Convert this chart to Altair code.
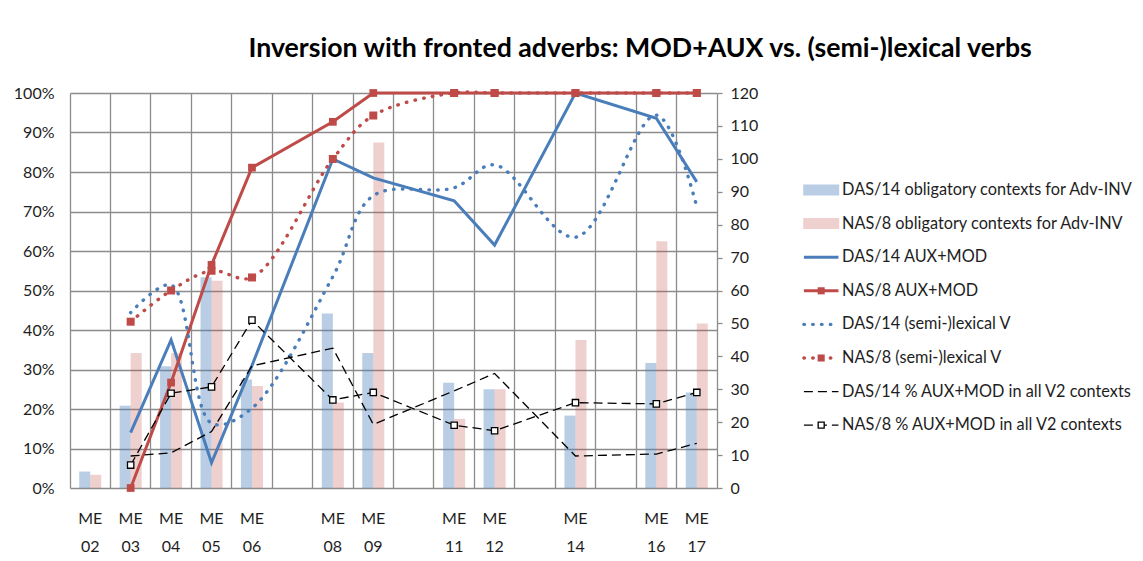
import altair as alt
import pandas as pd

# ---------------- data ----------------
codes = ["02", "03", "04", "05", "06", "07", "08", "09", "10", "11", "12", "13", "14", "15", "16", "17"]
hidden = ["07", "10", "13", "15"]

bar_codes = ["02", "03", "04", "05", "06", "08", "09", "11", "12", "14", "16", "17"]
das_ctx = [5, 25, 37, 64, 33, 53, 41, 32, 30, 22, 38, 29]
nas_ctx = [4, 41, 41, 63, 31, 26, 105, 21, 30, 45, 75, 50]

line_codes = ["03", "04", "05", "06", "08", "09", "11", "12", "14", "16", "17"]
das_auxmod = [14.0, 37.5, 6.4, 31.0, 83.3, 78.5, 72.7, 61.5, 100, 93.6, 77.5]
nas_auxmod = [0.0, 26.7, 56.5, 81.1, 92.7, 100, 100, 100, 100, 100, 100]
das_lex = [44.4, 51.4, 16.4, 20.2, 53.5, 74.0, 76.0, 81.8, 63.5, 94.4, 71.2]
nas_lex = [42.1, 50.0, 55.0, 53.3, 83.3, 94.3, 100, 100, 100, 100, 100]
das_v2 = [8.1, 8.9, 14.3, 30.9, 35.4, 16.1, 24.6, 29.0, 8.1, 8.6, 11.3]
nas_v2 = [5.8, 24.0, 25.6, 42.5, 22.3, 24.2, 15.9, 14.5, 21.6, 21.3, 24.2]

legend_names = [
    "DAS/14 obligatory contexts for Adv-INV",
    "NAS/8 obligatory contexts for Adv-INV",
    "DAS/14 AUX+MOD",
    "NAS/8 AUX+MOD",
    "DAS/14 (semi-)lexical V",
    "NAS/8 (semi-)lexical V",
    "DAS/14 % AUX+MOD in all V2 contexts",
    "NAS/8 % AUX+MOD in all V2 contexts",
]

title_text = "Inversion with fronted adverbs: MOD+AUX vs. (semi-)lexical verbs"

# ---------------- style ----------------
FONT = "Lato"
TXT = "#1e1e1e"
GRID = "#8c8c8c"
BLUE = "#4a7ebb"
RED = "#be4b48"
BLACK = "#000000"
DOT = [0.5, 8.3]
DASH = [9, 5]

# ---------------- tables ----------------
bar_df = pd.DataFrame({
    "code": bar_codes * 2,
    "group": ["DAS"] * len(bar_codes) + ["NAS"] * len(bar_codes),
    "count": das_ctx + nas_ctx,
})

series = {
    "das_auxmod": das_auxmod, "nas_auxmod": nas_auxmod,
    "das_lex": das_lex, "nas_lex": nas_lex,
    "das_v2": das_v2, "nas_v2": nas_v2,
}
rows = []
for k, vals in series.items():
    for c, v in zip(line_codes, vals):
        rows.append({"code": c, "series": k, "value": v / 100.0})
line_df = pd.DataFrame(rows)

# ---------------- encodings ----------------
label_expr = "indexof(['07','10','13','15'], datum.value) >= 0 ? '' : ['ME', datum.value]"
x_enc = alt.X(
    "code:N",
    scale=alt.Scale(domain=codes, paddingInner=0, paddingOuter=0),
    axis=alt.Axis(
        title=None, bandPosition=0, grid=True, gridColor=GRID, gridWidth=1.3,
        domain=False, ticks=False, labelExpr=label_expr,
        labelPadding=22, labelFont=FONT, labelFontSize=16, labelColor=TXT,
        labelLineHeight=28, labelAngle=0, labelBaseline="top",
    ),
)

left_axis = alt.Axis(
    orient="left", title=None, values=[i / 10 for i in range(11)], format=".0%",
    grid=True, gridColor=GRID, gridWidth=1.3, domain=False, ticks=False,
    labelPadding=16, labelFont=FONT, labelFontSize=16, labelColor=TXT,
)
right_axis = alt.Axis(
    orient="right", title=None, values=list(range(0, 121, 10)), grid=False,
    domain=True, domainColor=GRID, domainWidth=1.3, ticks=True, tickColor=GRID,
    tickSize=5, tickWidth=1.3, labelPadding=8, labelFont=FONT, labelFontSize=16,
    labelColor=TXT,
)
y_line = alt.Y("value:Q", scale=alt.Scale(domain=[0, 1], nice=False), axis=left_axis)

bars = alt.Chart(bar_df).mark_bar().encode(
    x=x_enc,
    xOffset=alt.XOffset("group:N", scale=alt.Scale(domain=["DAS", "NAS"], paddingInner=0, paddingOuter=0.836)),
    y=alt.Y("count:Q", scale=alt.Scale(domain=[0, 120], nice=False), axis=right_axis),
    color=alt.Color("group:N", scale=alt.Scale(domain=["DAS", "NAS"], range=["#4f81bd", "#c0504d"]), legend=None),
    opacity=alt.Opacity("group:N", scale=alt.Scale(domain=["DAS", "NAS"], range=[0.4, 0.27]), legend=None),
)

base = alt.Chart(line_df)


def line(key, color, width, dash=None, interp="linear"):
    kw = dict(color=color, strokeWidth=width, interpolate=interp)
    if dash is not None:
        kw["strokeDash"] = dash
        kw["strokeCap"] = "round" if dash == DOT else "butt"
    return base.transform_filter(alt.datum.series == key).mark_line(**kw).encode(x=x_enc, y=y_line)


def pts(key, size, fill, stroke, sw):
    return base.transform_filter(alt.datum.series == key).mark_point(
        shape="square", size=size, filled=True, fill=fill, stroke=stroke,
        strokeWidth=sw, opacity=1,
    ).encode(x=x_enc, y=y_line)


lines = alt.layer(
    line("das_auxmod", BLUE, 3),
    line("nas_auxmod", RED, 3),
    pts("nas_auxmod", 60, RED, RED, 0),
    line("das_lex", BLUE, 3.4, DOT, "catmull-rom"),
    line("nas_lex", RED, 3.4, DOT, "catmull-rom"),
    pts("nas_lex", 64, RED, RED, 0),
    line("das_v2", BLACK, 1.3, DASH),
    line("nas_v2", BLACK, 1.3, DASH),
    pts("nas_v2", 40, "white", BLACK, 1.3),
)

main = alt.layer(bars, lines).resolve_scale(y="independent").properties(width=647, height=395)

# ---------------- legend panel ----------------
STEP = 33.6
lo = -97 / STEP
hi = lo + 395 / STEP
leg_df = pd.DataFrame({
    "name": legend_names,
    "idx": list(range(len(legend_names))),
    "kind": ["bar", "bar", "solid", "solid", "dot", "dot", "dash", "dash"],
    "col": ["#4f81bd", "#c0504d", BLUE, RED, BLUE, RED, BLACK, BLACK],
    "op": [0.4, 0.27, 1, 1, 1, 1, 1, 1],
    "marker": ["", "", "", "fill", "", "fill", "", "open"],
})
lx = alt.Scale(domain=[0, 330], nice=False, zero=False)
ly = alt.Scale(domain=[lo, hi], nice=False, zero=False, reverse=True)
lbase = alt.Chart(leg_df)
ly_enc = alt.Y("idx:Q", scale=ly, axis=None)

leg_rect = lbase.transform_filter(alt.datum.kind == "bar").mark_tick(
    orient="horizontal", size=36, thickness=11
).encode(
    x=alt.X(datum=20, scale=lx, axis=None), y=ly_enc,
    color=alt.Color("col:N", scale=None), opacity=alt.Opacity("op:Q", scale=None),
)


def leg_rule(kind, width, dash):
    kw = dict(strokeWidth=width)
    if dash is not None:
        kw["strokeDash"] = dash
        kw["strokeCap"] = "round" if dash == DOT else "butt"
    return lbase.transform_filter(alt.datum.kind == kind).mark_rule(**kw).encode(
        x=alt.X(datum=1, scale=lx, axis=None), x2=alt.X2(datum=39), y=ly_enc,
        color=alt.Color("col:N", scale=None),
    )


leg_fill = lbase.transform_filter(alt.datum.marker == "fill").mark_point(
    shape="square", size=50, filled=True, opacity=1
).encode(x=alt.X(datum=20, scale=lx, axis=None), y=ly_enc, color=alt.Color("col:N", scale=None))
leg_open = lbase.transform_filter(alt.datum.marker == "open").mark_point(
    shape="square", size=36, filled=True, fill="white", stroke=BLACK, strokeWidth=1.3, opacity=1
).encode(x=alt.X(datum=20, scale=lx, axis=None), y=ly_enc)

leg_text = lbase.mark_text(
    align="left", baseline="middle", font=FONT, fontSize=16.3, color=TXT
).encode(x=alt.X(datum=43, scale=lx, axis=None), y=ly_enc, text="name:N")

legend = alt.layer(
    leg_rect,
    leg_rule("solid", 3, None),
    leg_rule("dot", 3.4, DOT),
    leg_rule("dash", 1.3, DASH),
    leg_fill, leg_open, leg_text,
).properties(width=300, height=395)

chart = alt.hconcat(main, legend, spacing=44).properties(
    title=alt.TitleParams(
        title_text, font=FONT, fontSize=26.7, fontWeight="bold", color=BLACK,
        anchor="middle", offset=22, dx=67,
    ),
    padding={"left": 5, "top": 28, "right": 0, "bottom": 0},
).configure_view(stroke=None).configure_concat(spacing=44)

chart.save("out.html", embed_options={"renderer": "svg", "actions": False})
